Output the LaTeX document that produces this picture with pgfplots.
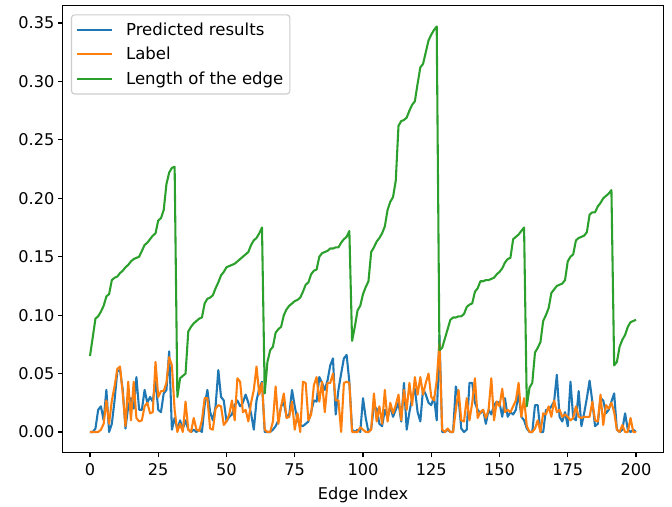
\documentclass[border=0pt]{standalone}
\usepackage{fontspec}
\setmainfont{DejaVu Sans}
\usepackage{pgfplots}
\usepackage{pgfplotstable}
\pgfplotsset{compat=1.18}
\definecolor{cblue}{HTML}{1F77B4}
\definecolor{corange}{HTML}{FF7F0E}
\definecolor{cgreen}{HTML}{2CA02C}
\definecolor{frame}{HTML}{CCCCCC}
\newcommand{\fs}{\fontsize{16.2}{19}\selectfont}
\newcommand{\fl}{\fontsize{16.6}{19}\selectfont}

% x, predicted, label, edge length
\pgfplotstableread{
x p l e
0 0 0 0.065
1 0 0 0.081
2 0.003 0 0.097
3 0.019 0 0.099
4 0.022 0.002 0.103
5 0.010 0.007 0.108
6 0.036 0.027 0.116
7 0 0.007 0.118
8 0.007 0.027 0.130
9 0.027 0.039 0.132
10 0.052 0.054 0.133
11 0.053 0.056 0.136
12 0.036 0.033 0.138
13 0.003 0.005 0.141
14 0.022 0.043 0.143
15 0.029 0.010 0.146
16 0.020 0.043 0.148
17 0.047 0.012 0.149
18 0.019 0.009 0.150
19 0.019 0.010 0.155
20 0.036 0.022 0.160
21 0.025 0.025 0.162
22 0.030 0.016 0.165
23 0.026 0.017 0.168
24 0.044 0.060 0.170
25 0.019 0.030 0.181
26 0.017 0.035 0.183
27 0.033 0.035 0.190
28 0.036 0.042 0.212
29 0.069 0.064 0.222
30 0.002 0.057 0.226
31 0.012 0.019 0.227
32 0.002 0 0.030
33 0.010 0.007 0.046
34 0.003 0 0.048
35 0.010 0.026 0.050
36 0.002 0.002 0.086
37 0 0 0.090
38 0.002 0.012 0.093
39 0 0.002 0.095
40 0.002 0.001 0.097
41 0 0.010 0.098
42 0.023 0.029 0.110
43 0.036 0.029 0.114
44 0.017 0.003 0.115
45 0.010 0.002 0.117
46 0.022 0.020 0.123
47 0.053 0.023 0.128
48 0.030 0.022 0.134
49 0.027 0.006 0.137
50 0.009 0.009 0.141
51 0.013 0.015 0.142
52 0.015 0.027 0.143
53 0.023 0.010 0.144
54 0.027 0.046 0.146
55 0.022 0.043 0.148
56 0.025 0.017 0.150
57 0.032 0.019 0.152
58 0.025 0.009 0.154
59 0.016 0.025 0.160
60 0.002 0.036 0.164
61 0.027 0.056 0.166
62 0.037 0.032 0.170
63 0.043 0.042 0.175
64 0 0.002 0.033
65 0 0 0.060
66 0 0 0.070
67 0.002 0.009 0.073
68 0.005 0.039 0.085
69 0.010 0.007 0.088
70 0.022 0.022 0.090
71 0.025 0.033 0.100
72 0.013 0.012 0.105
73 0.015 0.013 0.108
74 0.036 0.026 0.110
75 0.022 0.002 0.112
76 0.010 0.016 0.113
77 0.006 0 0.115
78 0.005 0.043 0.120
79 0.007 0.042 0.126
80 0.009 0.010 0.128
81 0.017 0.015 0.135
82 0.027 0.040 0.138
83 0.026 0.047 0.139
84 0.047 0.026 0.150
85 0.042 0.043 0.153
86 0.036 0.017 0.154
87 0.044 0.042 0.155
88 0.057 0.042 0.157
89 0.063 0.050 0.157
90 0.015 0.027 0.158
91 0.036 0.027 0.158
92 0.050 0 0.162
93 0.063 0.042 0.165
94 0.066 0.043 0.167
95 0.043 0.042 0.172
96 0.002 0 0.078
97 0 0 0.090
98 0.002 0 0.104
99 0 0.004 0.108
100 0.029 0.002 0.118
101 0.012 0 0.124
102 0 0 0.129
103 0.003 0.002 0.154
104 0.022 0.033 0.158
105 0.020 0.009 0.163
106 0.007 0.022 0.166
107 0.005 0.007 0.170
108 0.019 0.036 0.176
109 0.012 0.009 0.190
110 0.022 0.025 0.197
111 0.013 0.016 0.201
112 0.019 0.023 0.215
113 0.025 0.032 0.262
114 0.009 0.010 0.266
115 0.042 0.036 0.267
116 0.002 0.019 0.269
117 0.017 0.042 0.275
118 0.029 0.023 0.280
119 0.037 0.047 0.283
120 0.017 0.032 0.298
121 0.009 0.047 0.312
122 0.037 0.032 0.315
123 0.032 0.042 0.325
124 0.025 0.050 0.335
125 0.023 0.030 0.340
126 0.030 0.027 0.344
127 0.010 0.044 0.347
128 0.083 0.076 0.070
129 0 0.002 0.072
130 0 0 0.080
131 0.002 0.003 0.088
132 0 0 0.096
133 0 0 0.098
134 0.039 0.019 0.098
135 0.029 0.036 0.099
136 0.003 0.010 0.099
137 0 0.009 0.101
138 0.002 0.029 0.107
139 0.042 0.010 0.109
140 0.042 0.025 0.110
141 0.025 0.046 0.120
142 0.019 0.012 0.123
143 0.016 0.017 0.129
144 0.019 0.019 0.129
145 0.007 0.012 0.130
146 0.019 0.019 0.130
147 0.015 0.046 0.131
148 0.023 0.010 0.132
149 0.026 0.026 0.135
150 0.025 0.022 0.137
151 0.013 0.037 0.140
152 0.029 0.017 0.145
153 0.013 0.019 0.148
154 0.017 0.017 0.149
155 0.015 0.022 0.165
156 0.019 0.027 0.167
157 0.033 0.042 0.169
158 0.013 0.013 0.172
159 0.010 0.029 0.175
160 0.003 0.005 0.022
161 0 0 0.038
162 0 0 0.042
163 0.023 0.003 0.068
164 0.023 0.010 0.072
165 0 0 0.077
166 0 0.016 0.095
167 0.019 0.015 0.100
168 0.019 0.022 0.106
169 0.022 0.013 0.119
170 0.026 0.027 0.122
171 0.049 0.017 0.125
172 0.013 0.019 0.126
173 0.009 0.013 0.127
174 0.017 0.015 0.130
175 0.005 0.013 0.146
176 0.043 0.010 0.150
177 0.012 0.012 0.152
178 0.010 0.022 0.164
179 0.035 0.013 0.166
180 0.005 0.012 0.167
181 0.016 0.013 0.168
182 0.029 0.013 0.171
183 0.044 0.013 0.186
184 0.026 0.026 0.188
185 0.005 0.010 0.188
186 0.007 0.009 0.193
187 0.029 0.032 0.196
188 0.027 0.006 0.200
189 0.016 0.023 0.202
190 0.019 0.020 0.204
191 0.026 0.025 0.207
192 0.033 0.017 0.057
193 0.002 0.002 0.060
194 0 0 0.073
195 0.002 0.006 0.079
196 0.016 0 0.083
197 0.002 0 0.090
198 0 0.012 0.094
199 0.002 0 0.095
200 0 0 0.096
}\data

\begin{document}
\begin{tikzpicture}
\begin{axis}[
  scale only axis, width=600.6bp, height=446.5bp,
  xmin=-10, xmax=210, ymin=-0.01737, ymax=0.3647,
  xtick={0,25,50,75,100,125,150,175,200},
  ytick={0,0.05,0.10,0.15,0.20,0.25,0.30,0.35},
  scaled y ticks=false,
  yticklabel style={/pgf/number format/.cd, fixed, fixed zerofill, precision=2},
  xticklabel style={yshift=-3bp},
  /pgf/number format/assume math mode=true,
  tick label style={font=\fs},
  tick align=outside, tick pos=left, major tick length=4.86bp,
  axis line style={line width=1.1bp},
  every tick/.style={black, line width=1.1bp},
  xlabel={Edge Index}, xlabel style={font=\fs, yshift=-5bp},
  legend cell align=left,
  legend style={at={(0.0138,0.981)}, anchor=north west, draw=frame, rounded corners=3bp,
    line width=1.1bp, font=\fl, row sep=6.5bp, column sep=11bp, inner xsep=4.5bp, inner ysep=6bp},
  legend image code/.code={\draw[#1] (0bp,0bp) -- (35bp,0bp);},
  every axis plot/.append style={line width=2.08bp, line join=round},
]
\addplot[cblue, no marks] table[x=x, y=p] {\data};
\addplot[corange, no marks] table[x=x, y=l] {\data};
\addplot[cgreen, no marks] table[x=x, y=e] {\data};
\legend{Predicted results, Label, Length of the edge}
\end{axis}
\useasboundingbox ([xshift=-62.7bp,yshift=-51.7bp]current axis.south west) rectangle ([xshift=8.7bp,yshift=5.8bp]current axis.north east);
\end{tikzpicture}
\end{document}
